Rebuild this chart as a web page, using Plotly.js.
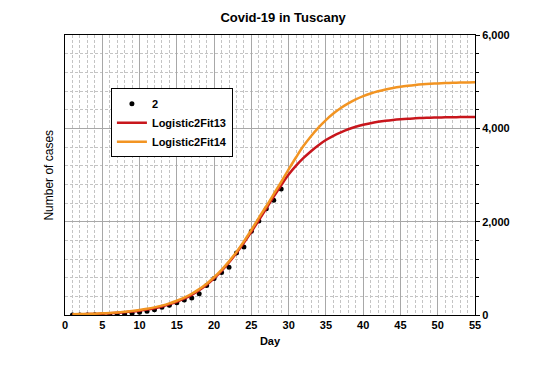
<!DOCTYPE html>
<html>
<head>
<meta charset="utf-8">
<script src="https://cdn.plot.ly/plotly-3.0.1.min.js"></script>
<style>html,body{margin:0;padding:0;background:#fff;}#chart{width:540px;height:380px;}</style>
</head>
<body>
<div id="chart"></div>
<script>
// Observed cumulative cases (day index, count)
var obsDays = [1,2,3,4,5,6,7,8,9,10,11,12,13,14,15,16,17,18,19,20,21,22,23,24,25,26,27,28,29];
var obsCases = [2,2,2,5,8,11,13,19,38,61,79,113,166,208,264,320,364,454,630,781,909,1025,1330,1455,1793,2013,2277,2461,2699];

// Fitted curves, one value per day
var fitDays = [1,2,3,4,5,6,7,8,9,10,11,12,13,14,15,16,17,18,19,20,21,22,23,24,25,26,27,28,29,30,31,32,33,34,35,36,37,38,39,40,41,42,43,44,45,46,47,48,49,50,51,52,53,54,55];
var fit13 = [12,15,19,23,30,37,47,59,74,93,116,145,182,227,282,349,431,530,647,785,944,1126,1328,1548,1783,2027,2280,2535,2780,3010,3200,3365,3510,3640,3750,3840,3915,3980,4033,4076,4111,4139,4162,4180,4194,4205,4215,4222,4228,4232,4236,4239,4241,4243,4244];
var fit14 = [15,19,24,29,36,45,56,70,86,107,132,163,201,248,305,373,456,554,671,808,967,1149,1352,1578,1822,2082,2330,2590,2850,3120,3380,3625,3832,4016,4177,4316,4435,4535,4619,4689,4747,4794,4833,4865,4891,4912,4929,4943,4954,4963,4970,4976,4981,4984,4988];

var names = ['2', 'Logistic2Fit13', 'Logistic2Fit14'];
var xTicks = [0,5,10,15,20,25,30,35,40,45,50,55];
var yTicks = [0,2000,4000,6000];

var FONT = 'Liberation Sans, Arial, sans-serif';

var traces = [
  {x: obsDays, y: obsCases, name: names[0], type: 'scatter', mode: 'markers',
   marker: {color: '#000000', size: 5}},
  {x: fitDays, y: fit13, name: names[1], type: 'scatter', mode: 'lines',
   line: {color: '#c8161c', width: 2.5, shape: 'spline'}},
  {x: fitDays, y: fit14, name: names[2], type: 'scatter', mode: 'lines',
   line: {color: '#f29422', width: 2.5, shape: 'spline'}}
];

var layout = {
  width: 540, height: 380,
  margin: {l: 65, r: 65, t: 35, b: 65},
  paper_bgcolor: '#ffffff', plot_bgcolor: '#ffffff',
  font: {family: FONT, size: 11, color: '#000'},
  showlegend: true,
  title: {text: '<b>Covid-19 in Tuscany</b>', font: {family: FONT, size: 13, color: '#000'},
          x: 0.532, xref: 'paper', xanchor: 'center', y: 0.955, yref: 'container', yanchor: 'middle'},
  xaxis: {
    range: [0, 55], tickvals: xTicks, ticktext: xTicks.map(String),
    showline: true, linecolor: '#000', linewidth: 1, mirror: true,
    ticks: '', zeroline: false,
    showgrid: true, gridcolor: '#a8a8a8', gridwidth: 1,
    minor: {dtick: 1, showgrid: true, gridcolor: '#c4c4c4', griddash: '3px,2px', gridwidth: 1},
    tickfont: {family: FONT, size: 11, color: '#000', weight: 'bold'},
    title: {text: '<b>Day</b>', font: {family: FONT, size: 11, color: '#000'}, standoff: 7}
  },
  yaxis: {
    range: [0, 6000], side: 'right', tickvals: yTicks, tickformat: ',d',
    showline: true, linecolor: '#000', linewidth: 1, mirror: true,
    ticks: 'outside', ticklen: 4, tickcolor: '#000', zeroline: false,
    showgrid: true, gridcolor: '#a8a8a8', gridwidth: 1,
    minor: {dtick: 400, ticks: 'outside', ticklen: 3, tickcolor: '#000',
            showgrid: true, gridcolor: '#c4c4c4', griddash: '3px,2px', gridwidth: 1},
    tickfont: {family: FONT, size: 11, color: '#000', weight: 'bold'}
  },
  legend: {
    x: 0.112, y: 0.81, xanchor: 'left', yanchor: 'top',
    bgcolor: '#ffffff', bordercolor: '#000', borderwidth: 1,
    font: {family: FONT, size: 11, color: '#000', weight: 'bold'},
    tracegroupgap: 0
  },
  annotations: [
    {text: 'Number of cases', xref: 'paper', yref: 'paper', x: -0.018, y: 0.5,
     xanchor: 'right', yanchor: 'middle', textangle: -90, showarrow: false,
     font: {family: FONT, size: 12, color: '#000'}}
  ]
};

Plotly.newPlot('chart', traces, layout, {staticPlot: true, displayModeBar: false});
</script>
</body>
</html>
